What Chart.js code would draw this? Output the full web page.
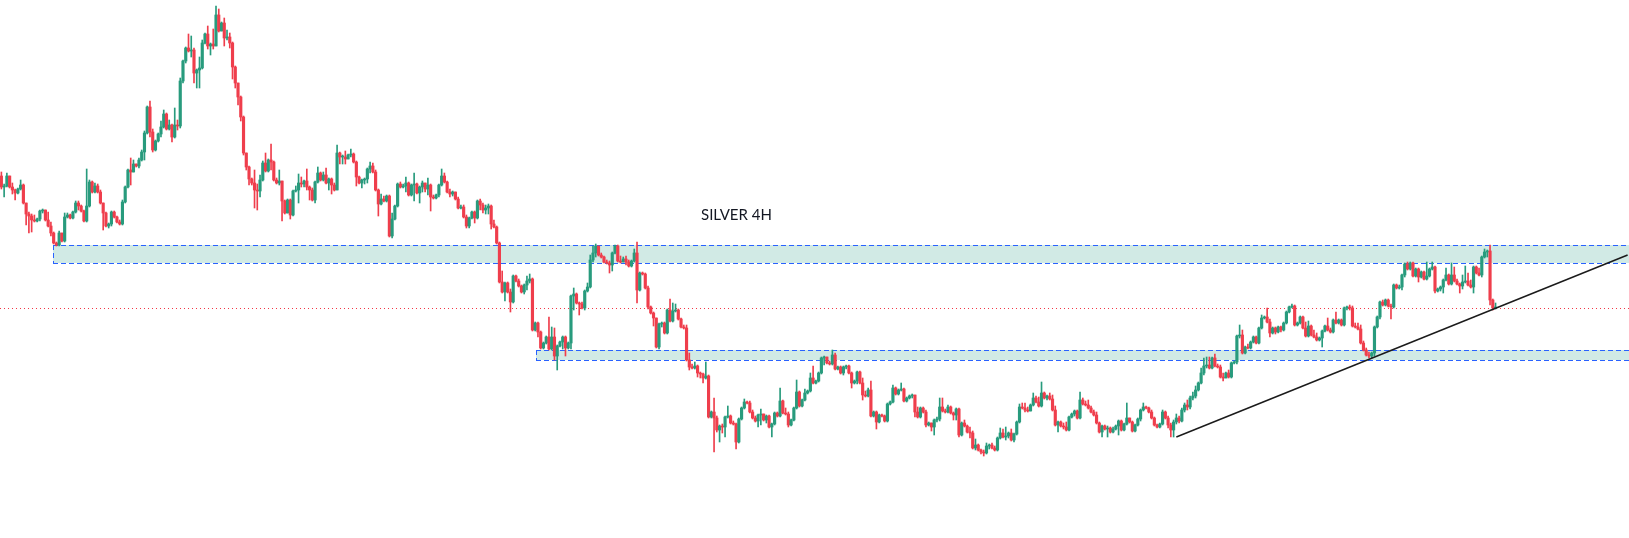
<!DOCTYPE html>
<html>
<head>
<meta charset="utf-8">
<title>SILVER 4H</title>
<script src="https://cdn.jsdelivr.net/npm/chart.js@4.4.0/dist/chart.umd.min.js"></script>
<style>
  html, body { margin: 0; padding: 0; background: #ffffff; }
  #wrap { position: relative; width: 1629px; height: 538px; overflow: hidden; }
  #title {
    position: absolute; left: 701px; top: 205px; line-height: 1;
    font: 15px Lato, "Open Sans", sans-serif; color: #131722; white-space: nowrap;
  }
</style>
</head>
<body>
<div id="wrap">
  <canvas id="chart"></canvas>
  <div id="title">SILVER 4H</div>
</div>
<script>
// 4H candles, oldest first. Each candle opens at the previous close.
const firstOpen = 26.24;

const closes = [
  26.13, 26.14, 26.24, 26.13, 26.10, 26.07, 26.11, 26.15, 25.97, 25.86,
  25.84, 25.80, 25.79, 25.81, 25.89, 25.90, 25.80, 25.74, 25.67, 25.57,
  25.55, 25.67, 25.59, 25.83, 25.85, 25.82, 25.88, 25.97, 25.94, 25.89,
  25.79, 25.94, 26.18, 26.08, 26.14, 26.08, 25.97, 25.87, 25.74, 25.76,
  25.88, 25.83, 25.78, 25.76, 25.98, 26.13, 26.30, 26.28, 26.36, 26.34,
  26.40, 26.48, 26.67,
  26.93, 26.68, 26.50, 26.59, 26.66, 26.73, 26.86, 26.71, 26.75, 26.63,
  26.75, 26.74, 27.19, 27.39, 27.52, 27.49, 27.50, 27.27, 27.30, 27.32,
  27.57, 27.66, 27.54, 27.56, 27.54, 27.85, 27.69, 27.77, 27.62, 27.63,
  27.57, 27.33, 27.17, 27.03, 26.83,
  26.47, 26.33, 26.21, 26.17, 26.10, 26.09, 26.20, 26.37, 26.29, 26.40,
  26.38, 26.20, 26.17, 26.19, 25.99, 25.87, 26.00, 25.85, 26.09, 26.10,
  26.17, 26.16, 26.19, 26.13, 26.10, 26.00, 26.18, 26.27, 26.20, 26.25,
  26.17, 26.21, 26.15, 26.10, 26.47, 26.43, 26.43, 26.41, 26.45, 26.46,
  26.38, 26.23, 26.17, 26.20, 26.21, 26.31, 26.34, 26.28, 26.10, 25.96,
  26.01, 25.99, 26.04, 25.64, 25.81, 25.94, 26.16, 26.13, 26.14, 26.17,
  26.05, 26.15, 26.16, 26.07, 26.13, 26.17, 26.11, 26.15, 26.03, 26.02,
  26.05, 26.15, 26.24, 26.18, 26.08, 26.06, 26.08, 26.01, 25.92, 25.93,
  25.83, 25.74, 25.82, 25.88, 25.82, 25.99,
  25.95, 25.90, 25.92, 25.94, 25.76, 25.73, 25.57, 25.18, 25.08, 25.17,
  25.08, 24.98, 25.24, 25.19, 25.14, 25.08, 25.15, 25.19, 25.21, 24.70,
  24.77, 24.68, 24.52, 24.57, 24.63, 24.51, 24.63, 24.44, 24.54, 24.58,
  24.63, 24.52, 24.57, 25.04, 25.06, 24.97, 24.96, 24.92, 25.09, 25.13,
  25.40, 25.47, 25.54, 25.45, 25.43, 25.38, 25.37, 25.35, 25.47, 25.54,
  25.39, 25.38, 25.41, 25.38, 25.34, 25.39, 25.47, 25.10, 25.27, 25.26,
  25.12, 24.93, 24.87, 24.82, 24.53, 24.76, 24.77, 24.67, 24.90, 24.79,
  24.89, 24.90, 24.81, 24.73, 24.72, 24.40,
  24.33, 24.32, 24.34, 24.27, 24.26, 24.22, 24.24, 23.83, 23.88, 23.82,
  23.70, 23.74, 23.73, 23.83, 23.84, 23.77, 23.76, 23.58, 23.81, 23.92,
  23.98, 23.97, 23.88, 23.82, 23.79, 23.85, 23.86, 23.80, 23.84, 23.73,
  23.76, 23.87, 23.84, 23.99, 23.87, 23.86, 23.75, 23.80, 23.92, 24.08,
  23.94, 24.00, 24.07, 24.09, 24.22, 24.17, 24.19, 24.27, 24.42, 24.43,
  24.37, 24.36, 24.45, 24.31, 24.33, 24.27, 24.33, 24.34, 24.27, 24.17,
  24.19, 24.28, 24.17, 24.05, 24.04, 24.10, 23.84, 23.88, 23.78, 23.85,
  23.84, 23.79, 23.96, 23.98, 24.12, 24.06, 24.10, 24.11, 23.99, 24.02,
  24.04, 24.05, 23.88, 23.83, 23.92, 23.88, 23.75, 23.77,
  23.73, 23.80, 23.81, 23.93, 23.89, 23.88, 23.93, 23.87, 23.85, 23.91,
  23.65, 23.77, 23.74, 23.68, 23.67, 23.52, 23.55, 23.50, 23.48, 23.47,
  23.54, 23.55, 23.52, 23.50, 23.62, 23.67, 23.63, 23.64, 23.67, 23.60,
  23.66, 23.78, 23.93, 23.92, 23.90, 23.89, 23.95, 24.02, 23.98, 23.94,
  24.07, 24.02, 24.04, 24.01, 23.90, 23.75, 23.78, 23.74, 23.73, 23.70,
  23.83, 23.86, 23.89, 23.82, 24.00, 23.96, 23.95, 23.92, 23.88, 23.85,
  23.77, 23.68, 23.74, 23.71, 23.72, 23.68, 23.71, 23.74, 23.79, 23.70,
  23.76, 23.82, 23.78, 23.69, 23.75, 23.81, 23.90, 23.93, 23.92, 23.88,
  23.82, 23.75, 23.73, 23.76, 23.88, 23.82,
  23.75, 23.70, 23.78, 23.82, 23.79, 23.90, 23.95, 23.93, 24.02, 24.04,
  24.10, 24.17, 24.27, 24.34, 24.35, 24.32, 24.42, 24.34, 24.33, 24.23,
  24.22, 24.27, 24.23, 24.37, 24.38, 24.64, 24.65, 24.47, 24.53, 24.52,
  24.58, 24.63, 24.57, 24.72, 24.82, 24.83, 24.78, 24.67, 24.72, 24.68,
  24.73, 24.70, 24.77, 24.88, 24.93, 24.94, 24.75, 24.77, 24.83, 24.72,
  24.64, 24.74, 24.65, 24.63, 24.60, 24.62, 24.69, 24.74, 24.70, 24.68,
  24.80, 24.77, 24.80, 24.75, 24.92, 24.93, 24.92, 24.74, 24.73, 24.71,
  24.57, 24.50, 24.45, 24.44, 24.47, 24.73, 24.83, 24.98, 24.95, 25.00,
  24.94, 24.93, 25.15, 25.12, 25.13, 25.25, 25.36, 25.31, 25.37, 25.24,
  25.31, 25.23,
  25.28, 25.21, 25.24, 25.31, 25.33, 25.09, 25.11, 25.13, 25.20, 25.25,
  25.16, 25.25, 25.19, 25.16, 25.14, 25.18, 25.19, 25.15, 25.13, 25.33,
  25.27, 25.25, 25.43, 25.48, 25.49, 25.00, 24.92, 24.93
];

const highs = [
  26.28, 26.16, 26.27, 26.24, 26.17, 26.11, 26.12, 26.20, 26.16, 25.97,
  25.88, 25.86, 25.85, 25.82, 25.90, 25.91, 25.90, 25.88, 25.78, 25.68,
  25.58, 25.69, 25.67, 25.87, 25.87, 25.86, 25.89, 25.99, 25.99, 25.95,
  25.90, 26.31, 26.20, 26.19, 26.17, 26.16, 26.10, 25.97, 25.88, 25.77,
  25.89, 25.89, 25.84, 25.80, 26.00, 26.14, 26.31, 26.42, 26.40, 26.36,
  26.42, 26.50, 26.69,
  26.94, 26.99, 26.71, 26.60, 26.67, 26.79, 26.90, 26.87, 26.80, 26.76,
  26.92, 26.80, 27.22, 27.40, 27.53, 27.66, 27.64, 27.52, 27.31, 27.43,
  27.60, 27.67, 27.74, 27.57, 27.71, 27.94, 27.91, 27.78, 27.82, 27.70,
  27.67, 27.58, 27.34, 27.17, 27.04,
  26.84, 26.47, 26.34, 26.22, 26.30, 26.16, 26.25, 26.39, 26.47, 26.41,
  26.56, 26.39, 26.22, 26.30, 26.19, 26.00, 26.01, 26.01, 26.10, 26.14,
  26.26, 26.23, 26.20, 26.31, 26.14, 26.12, 26.19, 26.33, 26.28, 26.28,
  26.32, 26.22, 26.22, 26.17, 26.55, 26.48, 26.45, 26.49, 26.46, 26.51,
  26.47, 26.39, 26.24, 26.21, 26.22, 26.32, 26.38, 26.37, 26.30, 26.11,
  26.06, 26.04, 26.05, 26.05, 25.87, 25.95, 26.17, 26.18, 26.16, 26.23,
  26.18, 26.16, 26.27, 26.17, 26.14, 26.19, 26.16, 26.22, 26.16, 26.05,
  26.06, 26.16, 26.31, 26.27, 26.19, 26.11, 26.09, 26.08, 26.03, 25.95,
  25.95, 25.85, 25.83, 25.89, 25.89, 26.00,
  26.01, 25.97, 25.95, 25.96, 25.95, 25.80, 25.74, 25.58, 25.29, 25.18,
  25.18, 25.11, 25.25, 25.25, 25.21, 25.15, 25.16, 25.24, 25.26, 25.22,
  24.78, 24.78, 24.69, 24.58, 24.64, 24.83, 24.73, 24.72, 24.55, 24.59,
  24.64, 24.64, 24.58, 25.05, 25.12, 25.07, 24.98, 24.98, 25.10, 25.17,
  25.45, 25.54, 25.56, 25.54, 25.47, 25.44, 25.40, 25.39, 25.48, 25.55,
  25.55, 25.44, 25.43, 25.44, 25.40, 25.40, 25.51, 25.58, 25.28, 25.28,
  25.27, 25.14, 24.94, 24.88, 24.80, 24.77, 24.78, 24.78, 24.91, 25.01,
  24.97, 24.96, 24.91, 24.82, 24.75, 24.75,
  24.47, 24.36, 24.38, 24.35, 24.28, 24.27, 24.38, 24.25, 23.89, 24.02,
  23.84, 23.75, 23.76, 23.84, 23.94, 23.85, 23.79, 23.77, 23.82, 23.93,
  24.01, 23.99, 23.99, 23.90, 23.84, 23.86, 23.91, 23.86, 23.85, 23.85,
  23.77, 23.88, 23.88, 24.12, 24.00, 23.92, 23.88, 23.81, 23.93, 24.20,
  24.09, 24.01, 24.11, 24.10, 24.27, 24.34, 24.20, 24.28, 24.43, 24.44,
  24.43, 24.39, 24.50, 24.47, 24.34, 24.34, 24.34, 24.35, 24.35, 24.28,
  24.20, 24.29, 24.29, 24.22, 24.09, 24.12, 24.19, 23.89, 23.89, 23.86,
  23.86, 23.85, 23.97, 23.99, 24.15, 24.13, 24.11, 24.17, 24.12, 24.03,
  24.05, 24.06, 23.97, 23.93, 23.93, 23.93, 23.90, 23.78,
  23.76, 23.81, 23.83, 24.02, 24.02, 23.91, 23.95, 23.94, 23.88, 23.92,
  23.92, 23.78, 23.80, 23.75, 23.73, 23.69, 23.61, 23.56, 23.51, 23.50,
  23.57, 23.56, 23.57, 23.54, 23.63, 23.72, 23.71, 23.73, 23.68, 23.71,
  23.67, 23.79, 23.96, 23.97, 23.97, 23.93, 23.96, 24.07, 24.04, 24.03,
  24.18, 24.08, 24.05, 24.07, 24.05, 23.94, 23.79, 23.79, 23.77, 23.78,
  23.84, 23.87, 23.90, 23.90, 24.08, 24.02, 23.99, 24.00, 23.94, 23.90,
  23.88, 23.78, 23.75, 23.75, 23.74, 23.73, 23.73, 23.75, 23.80, 23.80,
  23.77, 23.97, 23.82, 23.79, 23.76, 23.82, 23.91, 23.97, 23.94, 23.93,
  23.90, 23.83, 23.76, 23.77, 23.90, 23.89,
  23.84, 23.77, 23.80, 23.86, 23.84, 23.92, 23.97, 24.00, 24.04, 24.08,
  24.14, 24.18, 24.32, 24.42, 24.43, 24.43, 24.43, 24.46, 24.36, 24.35,
  24.27, 24.28, 24.30, 24.38, 24.39, 24.65, 24.75, 24.70, 24.54, 24.56,
  24.59, 24.64, 24.64, 24.73, 24.85, 24.84, 24.92, 24.81, 24.73, 24.73,
  24.74, 24.74, 24.78, 24.89, 24.94, 24.96, 24.95, 24.78, 24.84, 24.84,
  24.78, 24.79, 24.75, 24.70, 24.67, 24.63, 24.70, 24.75, 24.82, 24.72,
  24.81, 24.88, 24.81, 24.81, 24.93, 24.94, 24.95, 24.94, 24.77, 24.77,
  24.75, 24.59, 24.52, 24.48, 24.48, 24.74, 24.84, 24.99, 25.00, 25.01,
  25.01, 24.96, 25.16, 25.16, 25.15, 25.26, 25.37, 25.38, 25.38, 25.38,
  25.32, 25.32,
  25.29, 25.29, 25.38, 25.32, 25.38, 25.34, 25.12, 25.14, 25.21, 25.32,
  25.26, 25.37, 25.33, 25.21, 25.17, 25.25, 25.34, 25.27, 25.20, 25.34,
  25.34, 25.32, 25.44, 25.51, 25.50, 25.55, 25.01, 24.97
];

const lows = [
  26.11, 26.03, 26.13, 26.12, 26.06, 26.00, 26.06, 26.10, 25.96, 25.75,
  25.67, 25.68, 25.78, 25.78, 25.79, 25.87, 25.79, 25.73, 25.64, 25.56,
  25.54, 25.54, 25.58, 25.58, 25.82, 25.81, 25.81, 25.87, 25.90, 25.88,
  25.78, 25.78, 25.93, 26.07, 26.07, 26.07, 25.96, 25.70, 25.73, 25.72,
  25.74, 25.82, 25.77, 25.75, 25.75, 25.97, 26.12, 26.15, 26.28, 26.33,
  26.32, 26.39, 26.40,
  26.66, 26.63, 26.48, 26.49, 26.58, 26.63, 26.72, 26.70, 26.70, 26.58,
  26.62, 26.70, 26.72, 27.17, 27.37, 27.48, 27.43, 27.17, 27.12, 27.12,
  27.31, 27.56, 27.51, 27.45, 27.51, 27.54, 27.68, 27.69, 27.54, 27.60,
  27.52, 27.21, 27.12, 26.95, 26.79,
  26.45, 26.30, 26.15, 26.15, 25.92, 25.90, 26.03, 26.19, 26.28, 26.28,
  26.30, 26.19, 26.16, 26.15, 25.79, 25.86, 25.89, 25.81, 25.84, 26.08,
  25.97, 26.13, 26.13, 26.10, 26.00, 25.99, 25.97, 26.17, 26.19, 26.19,
  26.16, 26.10, 26.06, 26.09, 26.10, 26.36, 26.36, 26.36, 26.42, 26.43,
  26.37, 26.14, 26.16, 26.12, 26.16, 26.17, 26.27, 26.27, 26.09, 25.84,
  25.95, 25.98, 25.98, 25.63, 25.62, 25.80, 25.93, 26.12, 26.12, 26.08,
  26.04, 26.04, 25.99, 26.06, 25.97, 26.08, 26.08, 26.05, 25.89, 26.01,
  26.01, 26.03, 26.14, 26.17, 26.07, 26.03, 26.04, 26.00, 25.91, 25.91,
  25.82, 25.72, 25.72, 25.81, 25.77, 25.81,
  25.90, 25.87, 25.86, 25.86, 25.71, 25.72, 25.56, 25.17, 25.07, 24.99,
  25.07, 24.88, 24.97, 25.18, 25.13, 25.07, 25.06, 25.10, 25.17, 24.69,
  24.69, 24.63, 24.51, 24.51, 24.56, 24.50, 24.50, 24.40, 24.30, 24.53,
  24.51, 24.44, 24.51, 24.51, 24.90, 24.96, 24.85, 24.91, 24.90, 25.08,
  25.12, 25.38, 25.43, 25.44, 25.42, 25.37, 25.36, 25.27, 25.29, 25.46,
  25.38, 25.37, 25.38, 25.35, 25.33, 25.33, 25.38, 24.97, 25.09, 25.25,
  25.11, 24.91, 24.86, 24.74, 24.52, 24.51, 24.73, 24.66, 24.66, 24.78,
  24.78, 24.88, 24.80, 24.72, 24.71, 24.39,
  24.30, 24.31, 24.31, 24.23, 24.22, 24.17, 24.21, 23.82, 23.82, 23.48,
  23.68, 23.58, 23.67, 23.63, 23.82, 23.76, 23.75, 23.51, 23.57, 23.80,
  23.91, 23.96, 23.87, 23.81, 23.78, 23.73, 23.75, 23.79, 23.77, 23.72,
  23.63, 23.75, 23.83, 23.83, 23.86, 23.85, 23.73, 23.74, 23.79, 23.91,
  23.93, 23.93, 23.99, 24.06, 24.08, 24.16, 24.16, 24.18, 24.26, 24.35,
  24.36, 24.35, 24.35, 24.30, 24.30, 24.26, 24.25, 24.31, 24.26, 24.12,
  24.16, 24.16, 24.16, 24.00, 24.03, 24.03, 23.83, 23.83, 23.71, 23.77,
  23.83, 23.78, 23.78, 23.95, 23.97, 24.05, 24.05, 24.09, 23.98, 23.98,
  24.01, 24.02, 23.83, 23.82, 23.82, 23.87, 23.73, 23.74,
  23.69, 23.65, 23.78, 23.79, 23.88, 23.87, 23.87, 23.86, 23.80, 23.80,
  23.63, 23.64, 23.73, 23.67, 23.62, 23.51, 23.50, 23.49, 23.46, 23.44,
  23.46, 23.51, 23.51, 23.49, 23.49, 23.61, 23.62, 23.60, 23.62, 23.59,
  23.58, 23.65, 23.77, 23.91, 23.88, 23.88, 23.89, 23.94, 23.97, 23.93,
  23.93, 24.01, 24.00, 24.00, 23.89, 23.74, 23.68, 23.73, 23.71, 23.69,
  23.69, 23.82, 23.84, 23.81, 23.81, 23.95, 23.94, 23.91, 23.87, 23.84,
  23.76, 23.67, 23.63, 23.70, 23.63, 23.67, 23.67, 23.70, 23.65, 23.69,
  23.69, 23.75, 23.77, 23.68, 23.68, 23.74, 23.79, 23.89, 23.91, 23.87,
  23.81, 23.74, 23.72, 23.72, 23.75, 23.81,
  23.72, 23.63, 23.63, 23.76, 23.77, 23.78, 23.88, 23.90, 23.91, 24.00,
  24.02, 24.09, 24.16, 24.25, 24.32, 24.31, 24.31, 24.33, 24.32, 24.22,
  24.19, 24.22, 24.22, 24.22, 24.36, 24.36, 24.62, 24.46, 24.46, 24.51,
  24.51, 24.57, 24.56, 24.56, 24.71, 24.81, 24.77, 24.63, 24.66, 24.66,
  24.67, 24.68, 24.69, 24.76, 24.87, 24.92, 24.74, 24.74, 24.76, 24.71,
  24.63, 24.63, 24.64, 24.62, 24.59, 24.59, 24.53, 24.68, 24.69, 24.67,
  24.67, 24.76, 24.76, 24.74, 24.74, 24.90, 24.90, 24.73, 24.72, 24.70,
  24.56, 24.49, 24.44, 24.42, 24.42, 24.44, 24.72, 24.81, 24.94, 24.94,
  24.93, 24.81, 24.92, 25.11, 25.11, 25.10, 25.23, 25.30, 25.30, 25.23,
  25.23, 25.18,
  25.22, 25.20, 25.20, 25.23, 25.30, 25.07, 25.08, 25.09, 25.07, 25.19,
  25.15, 25.15, 25.18, 25.15, 25.07, 25.11, 25.17, 25.14, 25.12, 25.07,
  25.26, 25.24, 25.23, 25.42, 25.43, 24.95, 24.90, 24.91
];

// total bar slots on the time axis (empty space to the right of the last candle)
const slotCount = 592;

// drawn objects (price levels, start slot)
const upperZone = { start: 18.8, top: 25.55, bottom: 25.37 };
const lowerZone = { start: 194.3, top: 24.50, bottom: 24.40 };
const lastPriceLine = 24.92;
const trendFrom = { slot: 427, price: 23.63 };
const trendTo = { slot: 591, price: 25.45 };

const upColor = '#289b7d';
const downColor = '#ef3e4c';

const labels = Array.from({ length: slotCount }, (_, i) => String(i));
const bodies = [];
const wicks = [];
const colors = [];
closes.forEach((c, i) => {
  const o = i === 0 ? firstOpen : closes[i - 1];
  bodies.push([o, c]);
  wicks.push([Math.min(lows[i], o, c), Math.max(highs[i], o, c)]);
  colors.push(c >= o ? upColor : downColor);
});

const zonesPlugin = {
  id: 'zones',
  beforeDatasetsDraw(chart) {
    const { ctx, chartArea, scales: { x, y } } = chart;
    ctx.save();
    [upperZone, lowerZone].forEach(z => {
      const x0 = Math.round(x.getPixelForValue(z.start));
      const y0 = Math.round(y.getPixelForValue(z.top));
      const y1 = Math.round(y.getPixelForValue(z.bottom));
      ctx.fillStyle = '#d1eae5';
      ctx.fillRect(x0, y0, chartArea.right - x0, y1 - y0);
      ctx.strokeStyle = '#2962ff';
      ctx.lineWidth = 1;
      ctx.setLineDash([5, 3]);
      ctx.beginPath();
      ctx.moveTo(x0, y0 + 0.5); ctx.lineTo(chartArea.right, y0 + 0.5);
      ctx.moveTo(x0, y1 + 0.5); ctx.lineTo(chartArea.right, y1 + 0.5);
      ctx.moveTo(x0 + 0.5, y0); ctx.lineTo(x0 + 0.5, y1);
      ctx.stroke();
    });
    const yp = Math.round(y.getPixelForValue(lastPriceLine)) + 0.5;
    ctx.strokeStyle = '#f23645';
    ctx.setLineDash([1, 3]);
    ctx.beginPath();
    ctx.moveTo(chartArea.left, yp);
    ctx.lineTo(chartArea.right, yp);
    ctx.stroke();
    ctx.restore();
  }
};

new Chart(document.getElementById('chart'), {
  type: 'bar',
  data: {
    labels,
    datasets: [
      {
        type: 'line',
        data: [
          { x: String(trendFrom.slot), y: trendFrom.price },
          { x: String(trendTo.slot), y: trendTo.price }
        ],
        borderColor: '#1b1b1b',
        borderWidth: 1.5,
        pointRadius: 0,
        fill: false
      },
      {
        data: bodies,
        backgroundColor: colors,
        barThickness: 2.5,
        minBarLength: 1,
        grouped: false,
        borderWidth: 0
      },
      {
        data: wicks,
        backgroundColor: colors,
        barThickness: 1,
        grouped: false,
        borderWidth: 0
      }
    ]
  },
  options: {
    responsive: true,
    maintainAspectRatio: false,
    animation: false,
    events: [],
    layout: { padding: 0 },
    plugins: { legend: { display: false }, tooltip: { enabled: false } },
    scales: {
      x: { type: 'category', display: false, offset: true, grid: { display: false } },
      y: { type: 'linear', display: false, min: 22.62, max: 28.00, grid: { display: false } }
    }
  },
  plugins: [zonesPlugin]
});
</script>
</body>
</html>
